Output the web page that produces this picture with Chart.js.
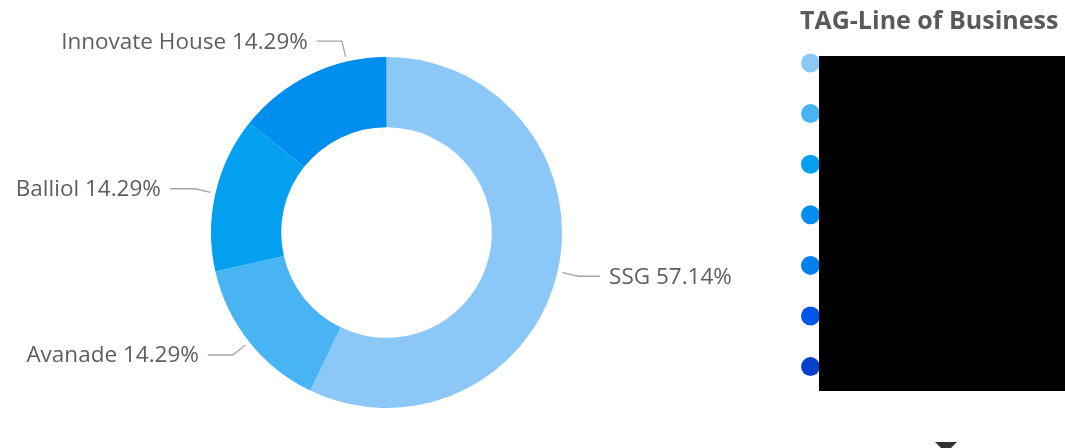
<!DOCTYPE html>
<html>
<head>
<meta charset="utf-8">
<script src="https://cdn.jsdelivr.net/npm/chart.js@4/dist/chart.umd.min.js"></script>
<style>
  html, body { margin: 0; padding: 0; background: #fff; }
  #wrap { position: relative; width: 1065px; height: 448px; overflow: hidden; }
</style>
</head>
<body>
<div id="wrap"><canvas id="chart" width="1065" height="448"></canvas></div>
<script>
// last three legend names are blacked out in the source picture
const categories = ["SSG", "Avanade", "Balliol", "Innovate House", "", "", ""];
const counts = [4, 1, 1, 1, 0, 0, 0];
const colors = ["#8CC8F7", "#48B4F4", "#03A0F0", "#018EEF", "#0080EF", "#0155E9", "#0741C9"];
const legendTitle = "TAG-Line of Business";

const total = counts.reduce((a, b) => a + b, 0);

const outsideLabels = {
  id: "outsideLabels",
  afterDatasetsDraw(chart, args, opts) {
    const ctx = chart.ctx;
    const meta = chart.getDatasetMeta(0);
    ctx.save();
    ctx.font = opts.font;
    ctx.textBaseline = "middle";
    ctx.lineWidth = 1.3;
    meta.data.forEach((arc, i) => {
      if (!counts[i]) return;
      const p = arc.getProps(["x", "y", "startAngle", "endAngle", "outerRadius"], true);
      const a = (p.startAngle + p.endAngle) / 2 + (opts.angleShift[i] || 0);
      const c = Math.cos(a), s = Math.sin(a);
      const x0 = p.x + c * (p.outerRadius + 5), y0 = p.y + s * (p.outerRadius + 5);
      const x1 = p.x + c * (p.outerRadius + 21), y1 = p.y + s * (p.outerRadius + 21);
      const right = c >= 0;
      const x2 = x1 + (right ? 22 : -25);
      ctx.strokeStyle = "#A6A6A6";
      ctx.beginPath();
      ctx.moveTo(x0, y0);
      ctx.lineTo(x1, y1);
      ctx.lineTo(x2, y1);
      ctx.stroke();
      ctx.fillStyle = "#605E5C";
      ctx.textAlign = right ? "left" : "right";
      const pct = (counts[i] / total * 100).toFixed(2) + "%";
      ctx.fillText(categories[i] + " " + pct, x2 + (right ? 9 : -9), y1 + 1);
    });
    ctx.restore();
  }
};

const sideLegend = {
  id: "sideLegend",
  afterDraw(chart) {
    const ctx = chart.ctx;
    ctx.save();
    ctx.font = 'bold 25px "Open Sans"';
    ctx.fillStyle = "#5A5A5A";
    ctx.textBaseline = "middle";
    ctx.fillText(legendTitle, 800, 22);
    categories.forEach((name, i) => {
      const y = 63 + i * 50.6;
      ctx.fillStyle = colors[i];
      ctx.beginPath();
      ctx.arc(810.5, y, 9.5, 0, Math.PI * 2);
      ctx.fill();
    });
    // redaction block over the legend names
    ctx.fillStyle = "#000";
    ctx.fillRect(819, 56, 246, 335);
    // scroll arrow
    ctx.fillStyle = "#333";
    ctx.beginPath();
    ctx.moveTo(935, 442);
    ctx.lineTo(957, 442);
    ctx.lineTo(946, 453);
    ctx.closePath();
    ctx.fill();
    ctx.restore();
  }
};

new Chart(document.getElementById("chart").getContext("2d"), {
  type: "doughnut",
  data: {
    labels: categories,
    datasets: [{
      data: counts,
      backgroundColor: colors,
      borderWidth: 0
    }]
  },
  options: {
    responsive: false,
    animation: false,
    cutout: "60%",
    layout: { padding: { left: 211, right: 503, top: 57, bottom: 40 } },
    plugins: {
      legend: { display: false },
      tooltip: { enabled: false },
      outsideLabels: { font: '22.5px "Open Sans"', angleShift: [0, 0, 0, 0.22] }
    }
  },
  plugins: [outsideLabels, sideLegend]
});
</script>
</body>
</html>
